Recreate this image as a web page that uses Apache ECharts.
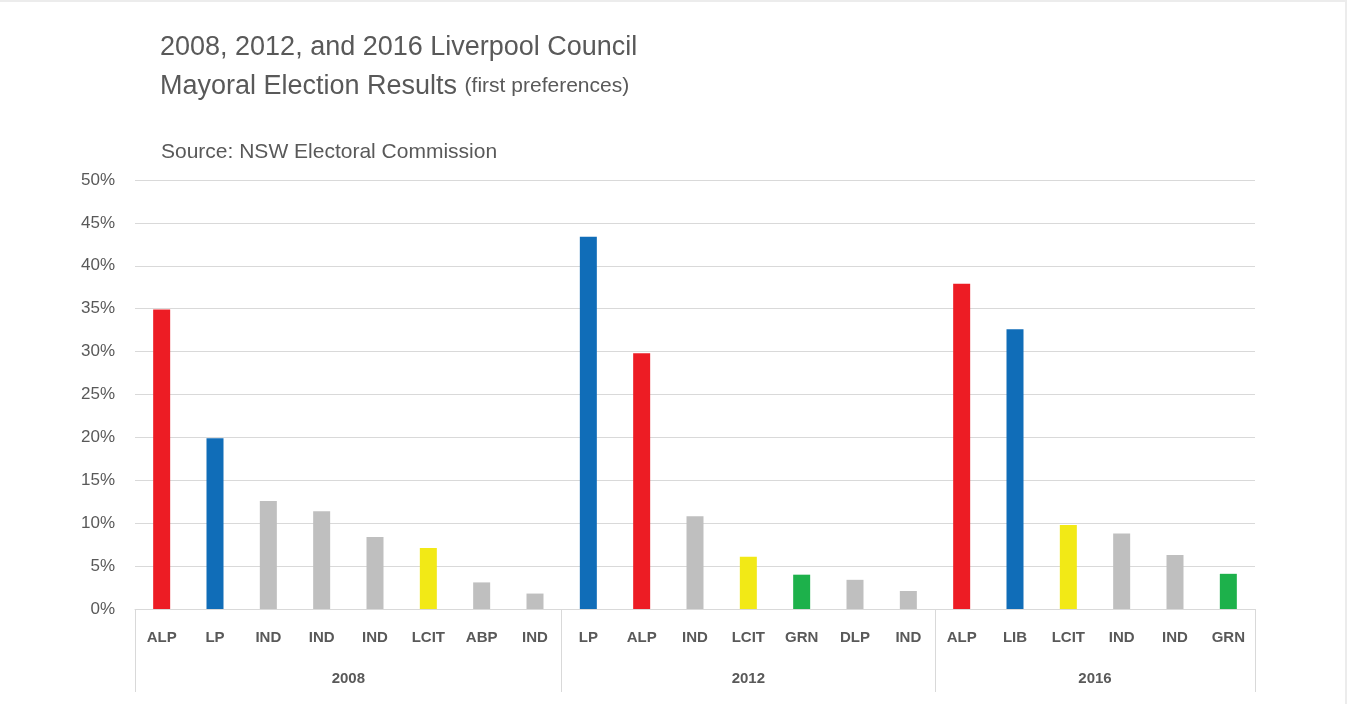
<!DOCTYPE html>
<html>
<head>
  <meta charset="utf-8" />
  <title>Liverpool Council Mayoral Election Results</title>
  <script src="https://cdn.jsdelivr.net/npm/echarts@6/dist/echarts.min.js"></script>
  <style>
    html, body { margin: 0; padding: 0; background: #fff; }
    #chart {
      width: 1347px;
      height: 704px;
      box-sizing: border-box;
      border-top: 2px solid #ececec;
      border-right: 2px solid #ececec;
    }
  </style>
</head>
<body>
  <div id="chart"></div>
  <script>
    // candidates' parties, in chart order
    const parties = ['ALP', 'LP', 'IND', 'IND', 'IND', 'LCIT', 'ABP', 'IND',
                     'LP', 'ALP', 'IND', 'LCIT', 'GRN', 'DLP', 'IND',
                     'ALP', 'LIB', 'LCIT', 'IND', 'IND', 'GRN'];
    // first preference vote share (%)
    const votes = [34.9, 19.9, 12.6, 11.4, 8.4, 7.1, 3.1, 1.8,
                   43.4, 29.8, 10.8, 6.1, 4.0, 3.4, 2.1,
                   37.9, 32.6, 9.8, 8.8, 6.3, 4.1];
    // election years and how many candidates each had
    const years = ['2008', '2012', '2016'];
    const groupSizes = [8, 7, 6];

    const partyColors = {
      ALP: '#ed1c24',
      LP: '#106db8',
      LIB: '#106db8',
      LCIT: '#f2e916',
      GRN: '#1db14b',
      IND: '#bfbfbf',
      ABP: '#bfbfbf',
      DLP: '#bfbfbf'
    };

    // year axis: boundaryGap false with 2*n+1 points, so half-category steps
    let yearSlots = [];
    let boundaryIdx = [0];
    let pos = 0;
    groupSizes.forEach((n, i) => {
      for (let k = 0; k < 2 * n; k++) {
        yearSlots.push(k === n ? years[i] : '');
      }
      pos += 2 * n;
      boundaryIdx.push(pos);
    });
    yearSlots.push('');

    const textColor = '#595959';
    const lineColor = '#d9d9d9';
    const font = '"Liberation Sans", Arial, sans-serif';

    const chart = echarts.init(document.getElementById('chart'));
    chart.setOption({
      animation: false,
      textStyle: { fontFamily: font },
      title: [
        {
          text: '2008, 2012, and 2016 Liverpool Council\nMayoral Election Results {s|(first preferences)}',
          left: 155,
          top: 21,
          textStyle: {
            color: textColor,
            fontSize: 27,
            fontWeight: 'normal',
            lineHeight: 39,
            fontFamily: font,
            rich: {
              s: { fontSize: 21, color: textColor, fontFamily: font, lineHeight: 39 }
            }
          }
        },
        {
          text: 'Source: NSW Electoral Commission',
          left: 156,
          top: 133,
          textStyle: { color: textColor, fontSize: 21, fontWeight: 'normal', fontFamily: font, lineHeight: 24 }
        }
      ],
      grid: { left: 135, right: 90, top: 178, bottom: 95, containLabel: false },
      xAxis: [
        {
          type: 'category',
          data: parties,
          axisLine: { show: true, lineStyle: { color: lineColor } },
          axisTick: { show: false },
          axisLabel: {
            interval: 0,
            margin: 21,
            color: textColor,
            fontSize: 15,
            fontWeight: 'bold'
          }
        },
        {
          type: 'category',
          position: 'bottom',
          boundaryGap: false,
          data: yearSlots,
          axisLine: { show: false },
          axisTick: {
            show: true,
            length: 83,
            interval: (idx) => boundaryIdx.includes(idx),
            lineStyle: { color: lineColor }
          },
          axisLabel: {
            interval: 0,
            margin: 62,
            color: textColor,
            fontSize: 15,
            fontWeight: 'bold'
          },
          splitLine: { show: false }
        }
      ],
      yAxis: {
        type: 'value',
        min: 0,
        max: 50,
        interval: 5,
        axisLine: { show: false },
        axisTick: { show: false },
        axisLabel: { formatter: '{value}%', color: textColor, fontSize: 17, margin: 20 },
        splitLine: { lineStyle: { color: lineColor } }
      },
      series: [
        {
          type: 'bar',
          xAxisIndex: 0,
          barWidth: 17,
          data: votes.map((v, i) => ({
            value: v,
            itemStyle: { color: partyColors[parties[i]] }
          }))
        }
      ]
    });
  </script>
</body>
</html>
